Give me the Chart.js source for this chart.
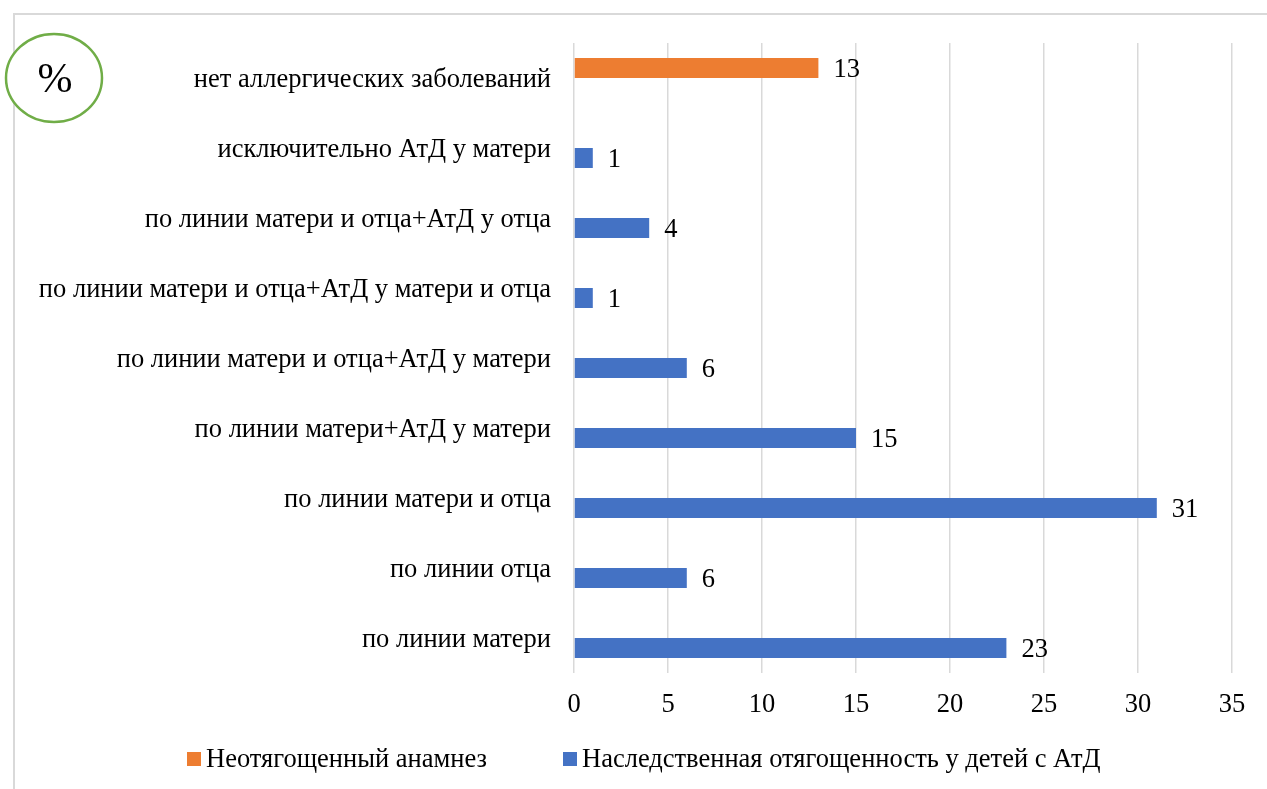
<!DOCTYPE html>
<html>
<head>
<meta charset="utf-8">
<script src="https://cdn.jsdelivr.net/npm/chart.js@4.4.1/dist/chart.umd.min.js"></script>
<style>
    html, body { margin: 0; padding: 0; background: #ffffff; }
    #wrap { width: 1267px; height: 789px; position: relative; }
</style>
</head>
<body>
<div id="wrap"><canvas id="chart" width="1267" height="789"></canvas></div>
<script>
const categories = [
    "нет аллергических заболеваний",
    "исключительно АтД у матери",
    "по линии матери и отца+АтД у отца",
    "по линии матери и отца+АтД у матери и отца",
    "по линии матери и отца+АтД у матери",
    "по линии матери+АтД у матери",
    "по линии матери и отца",
    "по линии отца",
    "по линии матери",
];
const noHistory = [13, null, null, null, null, null, null, null, null];
const hereditary = [null, 1, 4, 1, 6, 15, 31, 6, 23];
const seriesNames = ["Неотягощенный анамнез", "Наследственная отягощенность у детей с АтД"];
const xTicks = [0, 5, 10, 15, 20, 25, 30, 35];

const FONT = "'Liberation Serif', 'Times New Roman', serif";
const FONT_SIZE = 26.5;
const TEXT = "#000000";

// frame around the chart and the "%" badge in the corner
const decorations = {
    id: "decorations",
    beforeDraw(chart) {
        const ctx = chart.ctx;
        ctx.save();
        ctx.strokeStyle = "#d9d9d9";
        ctx.lineWidth = 2;
        ctx.strokeRect(14, 14, 1400, 900);
        ctx.restore();
    },
    afterDraw(chart) {
        const ctx = chart.ctx;
        ctx.save();
        ctx.fillStyle = "#ffffff";
        ctx.strokeStyle = "#70ad47";
        ctx.lineWidth = 2.5;
        ctx.beginPath();
        ctx.ellipse(54, 78, 48, 44, 0, 0, Math.PI * 2);
        ctx.fill();
        ctx.stroke();
        ctx.fillStyle = TEXT;
        ctx.font = "42px " + FONT;
        ctx.textAlign = "center";
        ctx.textBaseline = "middle";
        ctx.fillText("%", 55, 81);
        ctx.restore();
    },
};

// value labels at the end of each bar
const valueLabels = {
    id: "valueLabels",
    afterDatasetsDraw(chart) {
        const ctx = chart.ctx;
        ctx.save();
        ctx.fillStyle = TEXT;
        ctx.font = FONT_SIZE + "px " + FONT;
        ctx.textAlign = "left";
        ctx.textBaseline = "middle";
        chart.data.datasets.forEach((ds, i) => {
            chart.getDatasetMeta(i).data.forEach((bar, j) => {
                const v = ds.data[j];
                if (v === null || v === undefined) return;
                ctx.fillText(String(v), bar.x + 15, bar.y + 2);
            });
        });
        ctx.restore();
    },
};

// legend row under the axis, one entry per dataset
const legendRow = {
    id: "legendRow",
    afterDraw(chart) {
        const ctx = chart.ctx;
        const starts = [187, 563];
        const y = 759;
        ctx.save();
        ctx.font = FONT_SIZE + "px " + FONT;
        ctx.textAlign = "left";
        ctx.textBaseline = "middle";
        chart.data.datasets.forEach((ds, i) => {
            const x = starts[i];
            ctx.fillStyle = ds.backgroundColor;
            ctx.fillRect(x, y - 7, 14, 14);
            ctx.fillStyle = TEXT;
            ctx.fillText(ds.label, x + 19, y + 1);
        });
        ctx.restore();
    },
};

new Chart(document.getElementById("chart"), {
    type: "bar",
    data: {
        labels: categories,
        datasets: [
            {
                label: seriesNames[0],
                data: noHistory,
                backgroundColor: "#ed7d31",
                categoryPercentage: 0.572,
                barPercentage: 1.0,
            },
            {
                label: seriesNames[1],
                data: hereditary,
                backgroundColor: "#4472c4",
                categoryPercentage: 0.572,
                barPercentage: 1.0,
            },
        ],
    },
    options: {
        indexAxis: "y",
        responsive: false,
        animation: false,
        layout: { padding: { left: 0, right: 35, top: 43, bottom: 66 } },
        scales: {
            x: {
                min: 0,
                max: 35,
                afterBuildTicks(scale) {
                    scale.ticks = xTicks.map((v) => ({ value: v }));
                },
                afterFit(scale) {
                    scale.height = 50;
                },
                grid: { color: "#d9d9d9", lineWidth: 1.5, drawTicks: false },
                border: { display: false },
                ticks: { color: TEXT, font: { family: FONT, size: FONT_SIZE }, padding: 16, autoSkip: false, maxRotation: 0 },
            },
            y: {
                afterFit(scale) {
                    scale.width = 574;
                },
                grid: { display: false, drawTicks: false },
                border: { display: false },
                ticks: { color: TEXT, font: { family: FONT, size: FONT_SIZE }, padding: 23, labelOffset: 2 },
            },
        },
        plugins: {
            legend: { display: false },
            tooltip: { enabled: false },
        },
    },
    plugins: [decorations, valueLabels, legendRow],
});
</script>
</body>
</html>
